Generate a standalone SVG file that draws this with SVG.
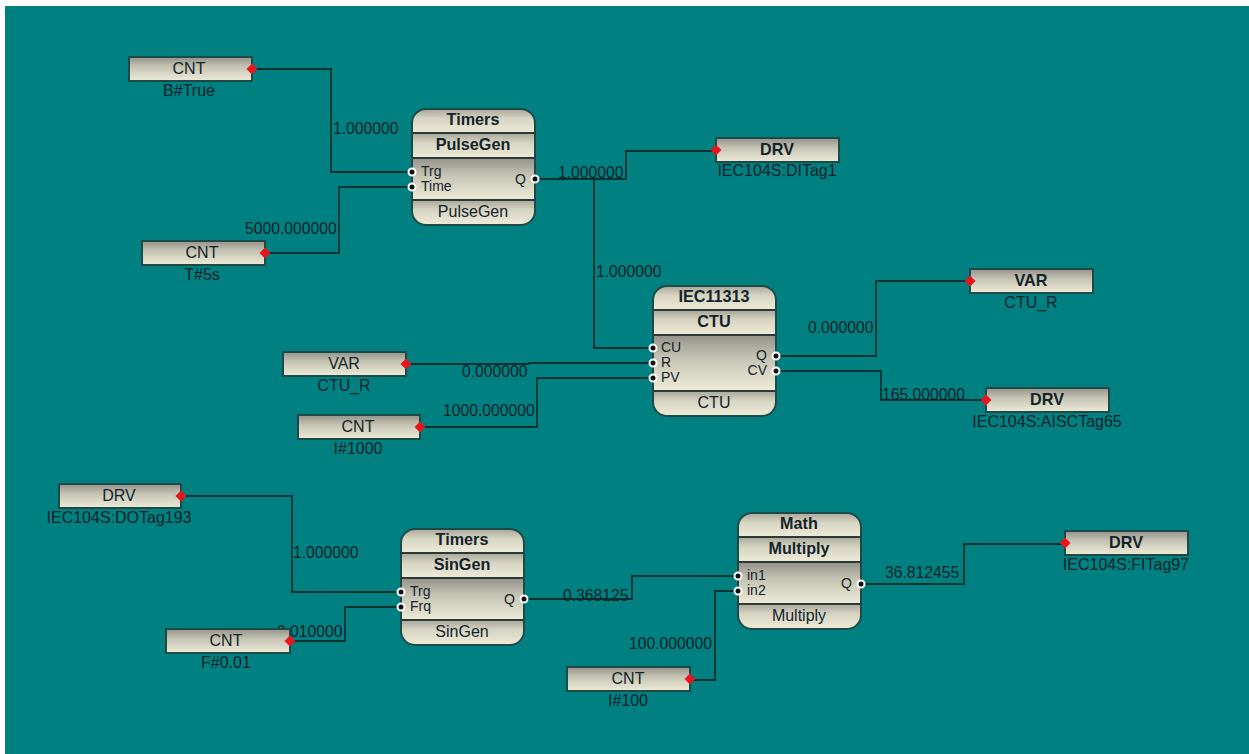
<svg xmlns="http://www.w3.org/2000/svg" width="1249" height="754" viewBox="0 0 1249 754">
<defs>
<linearGradient id="g" x1="0" y1="0" x2="0" y2="1"><stop offset="0" stop-color="#94928a"/><stop offset="0.4" stop-color="#c4c2b2"/><stop offset="1" stop-color="#eeecd8"/></linearGradient>
<linearGradient id="h" x1="0" y1="0" x2="0" y2="1"><stop offset="0" stop-color="#a8a699"/><stop offset="0.4" stop-color="#d6d4c2"/><stop offset="1" stop-color="#eeecd8"/></linearGradient>
<clipPath id="c1"><rect x="0" y="0" width="123" height="116" rx="14"/></clipPath>
<clipPath id="c2"><rect x="0" y="0" width="123" height="130" rx="14"/></clipPath>
</defs>
<style>
text{font-family:"Liberation Sans",Arial,sans-serif;font-size:16px;fill:#14232a}
.m{text-anchor:middle}
.b{font-weight:bold;font-size:16.2px}
.e{text-anchor:end}
.s{font-size:14px}
.k{font-size:15.7px}
.w{fill:none;stroke:#06332f;stroke-width:1.8}
.box{fill:url(#g);stroke:#1d4a47;stroke-width:2}
.row{fill:url(#h)}
.body{fill:url(#g)}
.sep{stroke:#2b3a38;stroke-width:2}
.out{fill:none;stroke:#1d4a47;stroke-width:2}
.p{fill:#111;stroke:#fff;stroke-width:2}
.d{fill:#e8141c}
</style>
<rect width="1249" height="754" fill="#fff"/>
<rect x="5" y="6" width="1244" height="748" fill="#008080"/>

<g id="connectors">
<path class="w" d="M252 69H331V172H412"/>
<path class="w" d="M265 253H339V187H412"/>
<path class="w" d="M535 179H626V151H715"/>
<path class="w" d="M594 179V348H653"/>
<path class="w" d="M406 364H529V363H653"/>
<path class="w" d="M420 427H537V378H653"/>
<path class="w" d="M776 356H876V281H970"/>
<path class="w" d="M776 371H881V400H986"/>
<path class="w" d="M181 496H292V592H401"/>
<path class="w" d="M290 641H345V607H401"/>
<path class="w" d="M524 599H632V576H738"/>
<path class="w" d="M690 680H715V591H738"/>
<path class="w" d="M861 584H964V544H1065"/>
</g>
<g id="connector-labels">
<text class="k" x="333" y="134">1.000000</text>
<text class="k" x="245" y="234">5000.000000</text>
<text class="k" x="558" y="178">1.000000</text>
<text class="k" x="596" y="277">1.000000</text>
<text class="k" x="462" y="377">0.000000</text>
<text class="k" x="443" y="416">1000.000000</text>
<text class="k" x="808" y="333">0.000000</text>
<text class="k" x="882" y="400">165.000000</text>
<text class="k" x="293" y="558">1.000000</text>
<text class="k" x="277" y="637">0.010000</text>
<text class="k" x="563" y="601">0.368125</text>
<text class="k" x="629" y="649">100.000000</text>
<text class="k" x="885" y="578">36.812455</text>
</g>

<g id="pulsegen" transform="translate(412 109)">
<g clip-path="url(#c1)"><rect class="row" width="123" height="24"/><rect class="row" y="24" width="123" height="25"/><rect class="body" y="49" width="123" height="42"/><rect class="row" y="91" width="123" height="25"/></g>
<rect class="out" width="123" height="116" rx="14"/>
<path class="sep" d="M0 24H123M0 49H123M0 91H123"/>
<text class="m b" x="61" y="16">Timers</text><text class="m b" x="61" y="41">PulseGen</text>
<text class="s" x="9" y="67">Trg</text><text class="s" x="9" y="82">Time</text><text class="e s" x="114" y="75">Q</text>
<text class="m" x="61" y="108">PulseGen</text>
<circle class="p" cy="63" r="3.5"/><circle class="p" cy="78" r="3.5"/><circle class="p" cx="123" cy="70" r="3.5"/>
</g>
<g id="ctu" transform="translate(653 286)">
<g clip-path="url(#c2)"><rect class="row" width="123" height="24"/><rect class="row" y="24" width="123" height="25"/><rect class="body" y="49" width="123" height="56"/><rect class="row" y="105" width="123" height="25"/></g>
<rect class="out" width="123" height="130" rx="14"/>
<path class="sep" d="M0 24H123M0 49H123M0 105H123"/>
<text class="m b" x="61" y="16">IEC11313</text><text class="m b" x="61" y="41">CTU</text>
<text class="s" x="8" y="66">CU</text><text class="s" x="8" y="81">R</text><text class="s" x="8" y="96">PV</text>
<text class="s e" x="114" y="74">Q</text><text class="s e" x="114" y="89">CV</text>
<text class="m" x="61" y="122">CTU</text>
<circle class="p" cy="62" r="3.5"/><circle class="p" cy="77" r="3.5"/><circle class="p" cy="92" r="3.5"/><circle class="p" cx="123" cy="70" r="3.5"/><circle class="p" cx="123" cy="85" r="3.5"/>
</g>
<g id="singen" transform="translate(401 529)">
<g clip-path="url(#c1)"><rect class="row" width="123" height="24"/><rect class="row" y="24" width="123" height="25"/><rect class="body" y="49" width="123" height="42"/><rect class="row" y="91" width="123" height="25"/></g>
<rect class="out" width="123" height="116" rx="14"/>
<path class="sep" d="M0 24H123M0 49H123M0 91H123"/>
<text class="m b" x="61" y="16">Timers</text><text class="m b" x="61" y="41">SinGen</text>
<text class="s" x="9" y="67">Trg</text><text class="s" x="9" y="82">Frq</text><text class="e s" x="114" y="75">Q</text>
<text class="m" x="61" y="108">SinGen</text>
<circle class="p" cy="63" r="3.5"/><circle class="p" cy="78" r="3.5"/><circle class="p" cx="123" cy="70" r="3.5"/>
</g>
<g id="multiply" transform="translate(738 513)">
<g clip-path="url(#c1)"><rect class="row" width="123" height="24"/><rect class="row" y="24" width="123" height="25"/><rect class="body" y="49" width="123" height="42"/><rect class="row" y="91" width="123" height="25"/></g>
<rect class="out" width="123" height="116" rx="14"/>
<path class="sep" d="M0 24H123M0 49H123M0 91H123"/>
<text class="m b" x="61" y="16">Math</text><text class="m b" x="61" y="41">Multiply</text>
<text class="s" x="9" y="67">in1</text><text class="s" x="9" y="82">in2</text><text class="e s" x="114" y="75">Q</text>
<text class="m" x="61" y="108">Multiply</text>
<circle class="p" cy="63" r="3.5"/><circle class="p" cy="78" r="3.5"/><circle class="p" cx="123" cy="71" r="3.5"/>
</g>

<g id="n1" transform="translate(129 57)"><rect class="box" width="123" height="24"/><text class="m" x="60" y="17">CNT</text><text class="m" x="60" y="39">B#True</text><path class="d" d="M117.500 12l5.500-5.500 5.500 5.500-5.500 5.500z"/></g>
<g id="n2" transform="translate(142 241)"><rect class="box" width="123" height="24"/><text class="m" x="60" y="17">CNT</text><text class="m" x="60" y="39">T#5s</text><path class="d" d="M117.500 12l5.500-5.500 5.500 5.500-5.500 5.500z"/></g>
<g id="n3" transform="translate(716 138)"><rect class="box" width="123" height="24"/><text class="m b" x="61" y="17">DRV</text><text class="m" x="61" y="38">IEC104S:DITag1</text><path class="d" d="M-5.500 12l5.500-5.500 5.500 5.500-5.500 5.500z"/></g>
<g id="n4" transform="translate(970 269)"><rect class="box" width="123" height="24"/><text class="m b" x="61" y="17">VAR</text><text class="m" x="61" y="39">CTU_R</text><path class="d" d="M-5.500 12l5.500-5.500 5.500 5.500-5.500 5.500z"/></g>
<g id="n5" transform="translate(283 352)"><rect class="box" width="123" height="24"/><text class="m" x="61" y="17">VAR</text><text class="m" x="61" y="39">CTU_R</text><path class="d" d="M117.500 12l5.500-5.500 5.500 5.500-5.500 5.500z"/></g>
<g id="n6" transform="translate(298 415)"><rect class="box" width="122" height="24"/><text class="m" x="60" y="17">CNT</text><text class="m" x="60" y="39">I#1000</text><path class="d" d="M116.500 12l5.500-5.500 5.500 5.500-5.500 5.500z"/></g>
<g id="n7" transform="translate(986 388)"><rect class="box" width="123" height="24"/><text class="m b" x="61" y="17">DRV</text><text class="m" x="61" y="39">IEC104S:AISCTag65</text><path class="d" d="M-5.500 12l5.500-5.500 5.500 5.500-5.500 5.500z"/></g>
<g id="n8" transform="translate(59 484)"><rect class="box" width="122" height="24"/><text class="m" x="60" y="17">DRV</text><text class="m" x="60" y="39">IEC104S:DOTag193</text><path class="d" d="M116.500 12l5.500-5.500 5.500 5.500-5.500 5.500z"/></g>
<g id="n9" transform="translate(166 629)"><rect class="box" width="124" height="24"/><text class="m" x="60" y="17">CNT</text><text class="m" x="60" y="39">F#0.01</text><path class="d" d="M118.500 12l5.500-5.500 5.500 5.500-5.500 5.500z"/></g>
<g id="n10" transform="translate(567 667)"><rect class="box" width="123" height="24"/><text class="m" x="61" y="17">CNT</text><text class="m" x="61" y="39">I#100</text><path class="d" d="M117.500 12l5.500-5.500 5.500 5.500-5.500 5.500z"/></g>
<g id="n11" transform="translate(1065 531)"><rect class="box" width="123" height="24"/><text class="m b" x="61" y="17">DRV</text><text class="m" x="61" y="39">IEC104S:FITag97</text><path class="d" d="M-5.500 12l5.500-5.500 5.500 5.500-5.500 5.500z"/></g>
</svg>
